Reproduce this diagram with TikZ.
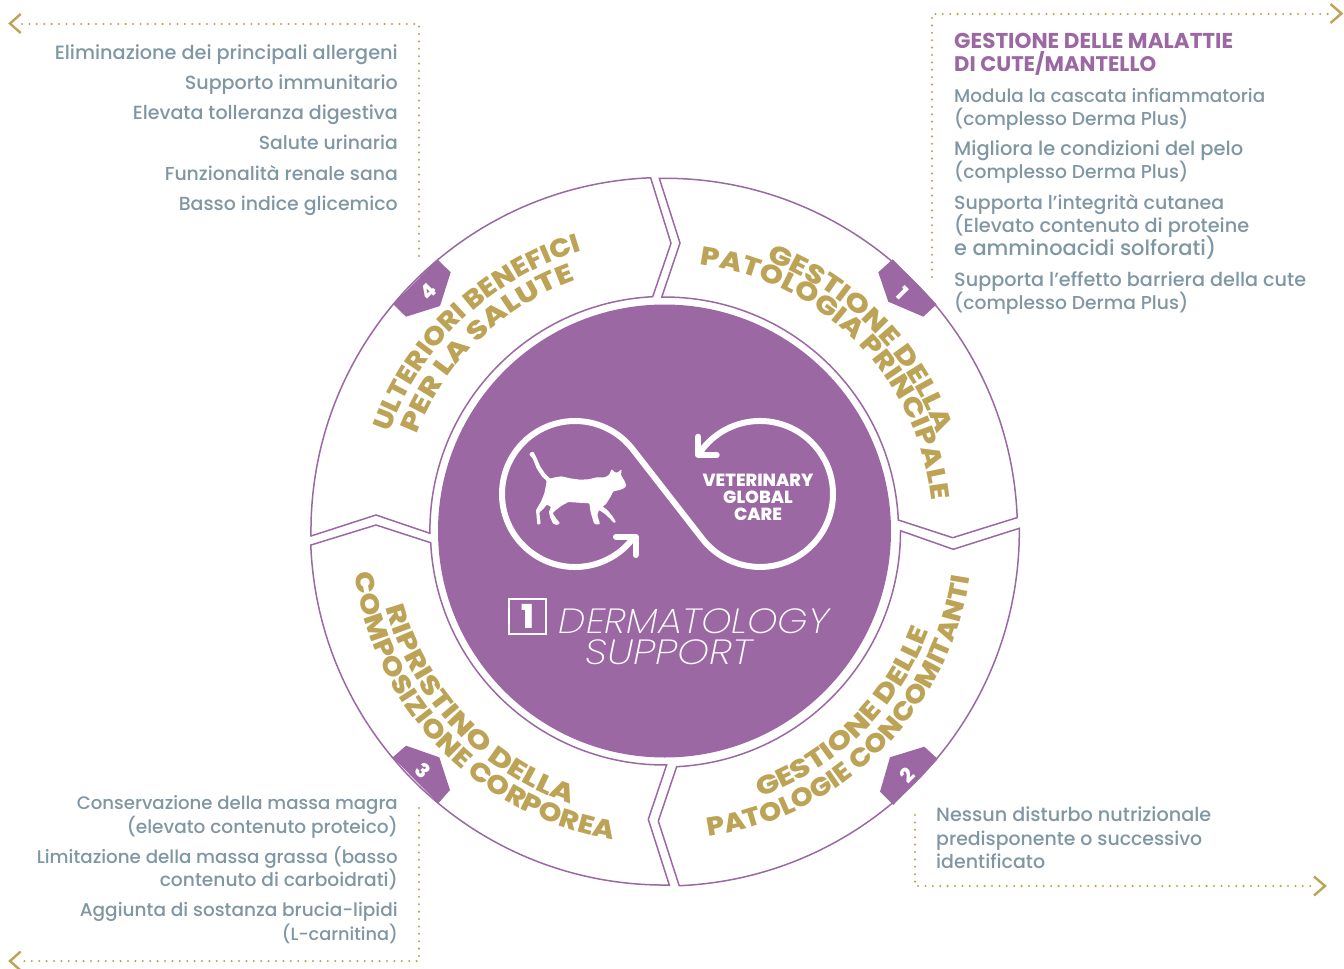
\documentclass[tikz,border=0pt]{standalone}
\usepackage{fontspec}
\usetikzlibrary{decorations.text}
\setmainfont{Poppins}
\newfontfamily\medf{Poppins Medium}
\newfontfamily\boldf{Poppins Bold}
\newfontfamily\xboldf{Poppins ExtraBold}
\newfontfamily\lightf{Poppins ExtraLight Italic}
\newfontfamily\bfZ[FakeStretch=1.085]{Poppins ExtraBold}
\newfontfamily\bfA[FakeStretch=1.12]{Poppins ExtraBold}
\newfontfamily\bfB[FakeStretch=1.15]{Poppins ExtraBold}
\newfontfamily\bfC[FakeStretch=1.185]{Poppins ExtraBold}
\newfontfamily\bfD[FakeStretch=1.22]{Poppins ExtraBold}
\definecolor{purp}{HTML}{9B68A3}
\definecolor{gold}{HTML}{BDA355}
\definecolor{greyb}{HTML}{7F96A3}
\tikzset{
  seg/.style={draw=purp,line width=1.5pt,fill=white,line join=miter},
  dots/.style={draw=gold,line width=2.3pt,line cap=round,dash pattern=on 0pt off 7.4pt},
  chev/.style={draw=gold,line width=2.4pt},
  badge/.style={fill=purp,draw=none},
  num/.style={text=white,font=\xboldf\fontsize{20}{20}\selectfont,inner sep=0pt},
  bodyr/.style={text=greyb,font=\medf\fontsize{19}{19}\selectfont,anchor=base east,inner sep=0pt},
  bodyl/.style={text=greyb,font=\medf\fontsize{19}{19}\selectfont,anchor=base west,inner sep=0pt},
  loopl/.style={draw=white,line width=6pt,line cap=round,line join=round},
  vet/.style={text=white,font=\xboldf\fontsize{17.6}{17.6}\selectfont,inner sep=0pt},
  derm/.style={text=white,font=\lightf\fontsize{35}{35}\selectfont,inner sep=0pt,anchor=base},
  headt/.style={anchor=base west,inner sep=0pt,text=purp,font=\boldf\fontsize{21.5}{21.5}\selectfont},
}
\newcommand{\fw}[2]{\resizebox{#1pt}{!}{#2}}
\newcommand{\curvetext}[5]{% radius, centre angle, half range (signed), text, font
  \pgfmathsetmacro{\angA}{#2-#3}\pgfmathsetmacro{\angB}{#2+#3}
  \path[decorate,decoration={text along path,text align=center,
     text={|#5\fontsize{26}{26}\selectfont\color{gold}|#4}}]
     ([shift={(664.5,531)}]\angA:#1) arc[start angle=\angA,end angle=\angB,radius=#1];
}
\begin{document}
\begin{tikzpicture}[x=1pt,y=-1pt]
\useasboundingbox (0,0) rectangle (1344,969);
% centre disc
\fill[purp] (664.5,531) circle[radius=226.5];
% segments
\draw[seg] (659.3,178.3) arc[start angle=-90.84,end angle=-2.22,radius=353] -- (952.7,537.7) -- (898.3,520) arc[start angle=-2.7,end angle=-90.68,radius=234] -- (680,243) -- cycle;
\draw[seg] (1019.3,528.3) arc[start angle=-0.44,end angle=87.6,radius=355] -- (658.3,821) -- (676.7,766.7) arc[start angle=87.04,end angle=-0.07,radius=236] -- (953.3,549.3) -- cycle;
\draw[seg] (669.3,885) arc[start angle=89.22,end angle=177.73,radius=354] -- (376,525) -- (430.7,542.7) arc[start angle=177.13,end angle=89.46,radius=234] -- (648.3,819.3) -- cycle;
\draw[seg] (311,536) arc[start angle=179.19,end angle=267.76,radius=353.5] -- (671,243.3) -- (652.7,296.7) arc[start angle=267.12,end angle=179.44,radius=234.6] -- (376,515) -- cycle;
% badges
\fill[badge] (892.7,259.3) -- (936.7,304.3) -- (923.3,316.7) -- (888.3,301.7) -- (878.3,272.3) -- cycle;
\fill[badge] (437.3,259.3) -- (393.3,304.3) -- (406,316.7) -- (440,306) -- (450.7,272.3) -- cycle;
\fill[badge] (937.7,759) -- (893.3,805) -- (880,791.7) -- (890,757.3) -- (924.3,746.7) -- cycle;
\fill[badge] (392.7,757.3) -- (438.3,803.3) -- (450,790) -- (439.3,757.3) -- (406,745.7) -- cycle;
\node[num,rotate=-45] (n1) at (902,293) {1};
\node[num,rotate=45] (n4) at (428.3,291.7) {4};
\node[num,rotate=45] (n2) at (907.7,775) {2};
\node[num,rotate=-45] (n3) at (422.7,770.7) {3};
% curved titles
\curvetext{289}{-44.5}{80}{GESTIONE DELLA}{\bfC}
\curvetext{269}{-44.5}{80}{PATOLOGIA PRINCIPALE}{\bfB}
\curvetext{283}{45.5}{-80}{GESTIONE DELLE}{\bfC}
\curvetext{309}{45.2}{-80}{PATOLOGIE CONCOMITANTI}{\bfZ}
\curvetext{289}{136.8}{-80}{RIPRISTINO DELLA}{\bfD}
\curvetext{313}{135.8}{-80}{COMPOSIZIONE CORPOREA}{\bfA}
\curvetext{292}{226.6}{80}{ULTERIORI BENEFICI}{\bfZ}
\curvetext{266}{225.8}{80}{PER LA SALUTE}{\bfD}
% infinity loop
\draw[loopl] (575,494) ++(37:73) arc[start angle=37,end angle=322.1,radius=73] -- (702.4,538.8) arc[start angle=142.1,end angle=-147,radius=73];
\draw[loopl] (616,536.7) -- (635.5,536.7) -- (635.5,555);
\draw[loopl] (698.3,436.7) -- (698.3,455) -- (716.7,455);
% cat
\begin{scope}[shift={(500,430)},x=0.3333pt,y=-0.3333pt]
\fill[white,rounded corners=0.8pt] (90,68) -- (100,65) -- (108,80) -- (120,108) -- (133,128) -- (150,146) -- (165,142) -- (185,139) -- (210,145) -- (240,149) -- (265,148) -- (290,142) -- (315,142) -- (328,134) -- (335,117) -- (345,127) -- (352,128) -- (365,118) -- (363,135) -- (375,155) -- (379,168) -- (370,176) -- (355,181) -- (340,184) -- (332,200) -- (318,222) -- (308,230) -- (322,240) -- (337,258) -- (348,276) -- (342,279) -- (330,266) -- (315,252) -- (297,240) -- (292,255) -- (300,282) -- (290,284) -- (282,280) -- (272,247) -- (268,220) -- (235,218) -- (205,216) -- (185,227) -- (165,242) -- (158,250) -- (168,265) -- (180,280) -- (172,285) -- (160,282) -- (150,262) -- (147,245) -- (153,230) -- (140,224) -- (130,237) -- (118,247) -- (122,282) -- (112,284) -- (108,240) -- (123,215) -- (133,190) -- (138,165) -- (140,152) -- (126,140) -- (110,115) -- (98,85) -- (88,75) -- cycle;
\end{scope}
\node[vet] (v1) at (758,480.5) {VETERINARY};
\node[vet] (v2) at (758,497.5) {GLOBAL};
\node[vet] (v3) at (758,514.5) {CARE};
% brand
\draw[white,line width=2pt] (509.3,598.7) rectangle (545.7,634);
\node[text=white,font=\xboldf\fontsize{33}{33}\selectfont,inner sep=0pt] (one) at (528,616) {1};
\node[derm] (d1) at (694,633) {\scalebox{1.1}[1]{DERMATOLOGY}};
\node[derm] (d2) at (669,664) {\scalebox{1.155}[1]{SUPPORT}};
% dotted leaders
\draw[dots] (22,24) -- (419,24) -- (419,256);
\draw[dots] (932,277) -- (932,14) -- (1330,14);
\draw[dots] (915,815) -- (915,886) -- (1314,886);
\draw[dots] (419,808) -- (419,961) -- (22,961);
\draw[chev] (20.7,14) -- (10,23.5) -- (20.7,33);
\draw[chev] (1330.5,4) -- (1341.5,13.5) -- (1330.5,23);
\draw[chev] (1314,876.5) -- (1325,886) -- (1314,895.5);
\draw[chev] (20.7,951.5) -- (10,961) -- (20.7,970.5);
% text top left
\node[bodyr] (a1) at (398,59) {\fw{343}{Eliminazione dei principali allergeni}};
\node[bodyr] (a2) at (398,89) {\fw{213}{Supporto immunitario}};
\node[bodyr] (a3) at (398,119) {\fw{265}{Elevata tolleranza digestiva}};
\node[bodyr] (a4) at (398,149) {\fw{139}{Salute urinaria}};
\node[bodyr] (a5) at (398,180) {\fw{233}{Funzionalità renale sana}};
\node[bodyr] (a6) at (398,210) {\fw{219}{Basso indice glicemico}};
% text top right
\node[headt] (h1) at (954,48.5) {\fw{279}{GESTIONE DELLE MALATTIE}};
\node[headt] (h2) at (954,71.5) {\fw{202}{DI CUTE/MANTELLO}};
\node[bodyl] (b1) at (954,102) {\fw{311}{Modula la cascata infiammatoria}};
\node[bodyl] (b2) at (954,125) {\fw{234}{(complesso Derma Plus)}};
\node[bodyl] (b3) at (954,155) {\fw{289}{Migliora le condizioni del pelo}};
\node[bodyl] (b4) at (954,178) {\fw{234}{(complesso Derma Plus)}};
\node[bodyl] (b5) at (954,209) {\fw{270}{Supporta l’integrità cutanea}};
\node[bodyl] (b6) at (954,232) {\fw{295}{(Elevato contenuto di proteine}};
\node[bodyl] (b7) at (954,255) {\fw{262}{e amminoacidi solforati)}};
\node[bodyl] (b8) at (954,286) {\fw{352}{Supporta l’effetto barriera della cute}};
\node[bodyl] (b9) at (954,309) {\fw{234}{(complesso Derma Plus)}};
% text bottom right
\node[bodyl] (c1) at (936,821) {\fw{275}{Nessun disturbo nutrizionale}};
\node[bodyl] (c2) at (936,845) {\fw{266}{predisponente o successivo}};
\node[bodyl] (c3) at (936,868) {\fw{109}{identificato}};
% text bottom left
\node[bodyr] (e1) at (398,809) {\fw{321}{Conservazione della massa magra}};
\node[bodyr] (e2) at (398,833) {\fw{271}{(elevato contenuto proteico)}};
\node[bodyr] (e3) at (398,863) {\fw{361}{Limitazione della massa grassa (basso}};
\node[bodyr] (e4) at (398,886) {\fw{238}{contenuto di carboidrati)}};
\node[bodyr] (e5) at (398,916) {\fw{318}{Aggiunta di sostanza brucia-lipidi}};
\node[bodyr] (e6) at (398,940) {\fw{116}{(L-carnitina)}};
\end{tikzpicture}
\end{document}
